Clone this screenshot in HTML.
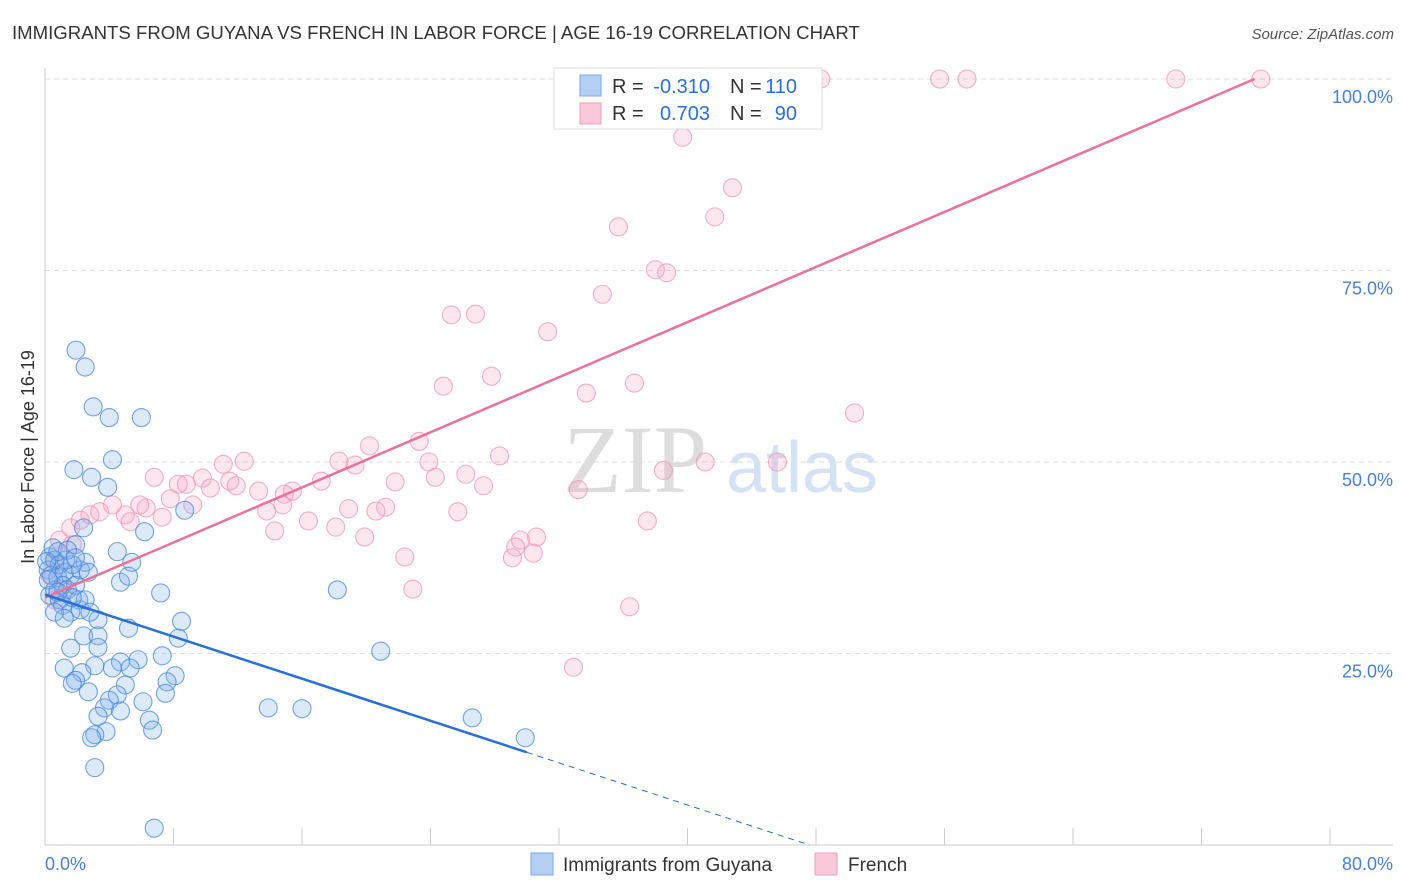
<!DOCTYPE html>
<html><head><meta charset="utf-8"><style>
body{margin:0;background:#fff;font-family:"Liberation Sans",sans-serif;}
#wrap{position:relative;width:1406px;height:892px;overflow:hidden;}
</style></head><body>
<div id="wrap">
<svg id="svg" width="1406" height="892" xmlns="http://www.w3.org/2000/svg">
<text x="12" y="39" font-size="18.6" fill="#333">IMMIGRANTS FROM GUYANA VS FRENCH IN LABOR FORCE | AGE 16-19 CORRELATION CHART</text>
<text x="1394" y="39" font-size="15" fill="#555" font-style="italic" text-anchor="end">Source: ZipAtlas.com</text>
<text x="635" y="492" font-size="96" fill="#ddd" font-family="Liberation Serif,serif" text-anchor="middle">ZIP</text>
<text x="802" y="492" font-size="72" fill="#d4e2f4" text-anchor="middle">atlas</text>
<g id="grid"></g>
<g id="pts"></g>
<g id="lines"></g>
<text transform="translate(34,457) rotate(-90)" font-size="18" fill="#333" text-anchor="middle">In Labor Force | Age 16-19</text>
<g>
<rect x="554" y="68" width="268" height="61" fill="#fff" stroke="#ddd"/>
<rect x="580" y="75" width="21" height="21" fill="#b4cff2" stroke="#7aa7e3"/>
<rect x="580" y="103" width="21" height="21" fill="#f9c9d8" stroke="#f0a0bb"/>
<text x="612" y="93" font-size="20" fill="#333">R =</text>
<text x="710" y="93" font-size="20" fill="#2a6fd6" text-anchor="end">-0.310</text>
<text x="730" y="93" font-size="20" fill="#333">N =</text>
<text x="797" y="93" font-size="20" fill="#2a6fd6" text-anchor="end">110</text>
<text x="612" y="120" font-size="20" fill="#333">R =</text>
<text x="710" y="120" font-size="20" fill="#2a6fd6" text-anchor="end">0.703</text>
<text x="730" y="120" font-size="20" fill="#333">N =</text>
<text x="797" y="120" font-size="20" fill="#2a6fd6" text-anchor="end">90</text>
</g>
<g>
<rect x="531" y="853" width="22" height="22" fill="#b4cff2" stroke="#7aa7e3"/>
<text x="563" y="871" font-size="19" fill="#333">Immigrants from Guyana</text>
<rect x="815" y="853" width="22" height="22" fill="#f9c9d8" stroke="#f0a0bb"/>
<text x="848" y="871" font-size="19" fill="#333">French</text>
</g>
</svg>
</div>
<script>
const yTicks=[25,50,75,100];
const yTickLabels=["25.0%","50.0%","75.0%","100.0%"];
const xTicks=[0,8,16,24,32,40,48,56,64,72,80];
const blueX=[1.93,2.5,3.0,4.0,6.0,4.2,1.8,2.9,3.9,8.7,6.2,2.4,1.9,4.5,5.4,2.5,4.7,5.2,7.2,18.2,8.5,8.3,5.2,3.3,2.4,3.3,3.3,1.6,20.9,7.3,5.8,4.7,4.2,5.3,3.1,1.2,2.3,1.9,1.7,8.1,7.6,5.0,2.7,4.5,7.5,4.0,6.1,3.7,4.7,13.9,16.0,3.3,6.5,26.6,3.8,3.1,6.7,29.9,2.9,3.1,6.8,0.3,0.6,0.9,0.2,0.4,0.8,1.2,1.6,1.1,0.6,0.3,0.9,1.4,1.9,2.2,1.7,1.3,2.7,2.1,1.1,0.6,1.6,2.2,1.2,0.2,0.5,0.8,1.4,1.9,2.5,2.8,1.7,0.8,0.1];
const blueY=[64.6,62.4,57.2,55.8,55.8,50.3,49.0,48.0,46.7,43.7,40.9,41.4,39.2,38.3,36.9,36.9,34.3,35.1,32.9,33.3,29.2,27.0,28.3,29.4,27.3,27.3,25.8,25.7,25.3,24.7,24.2,23.9,23.1,23.1,23.4,23.1,22.5,21.5,21.1,22.1,21.3,20.9,20.0,19.6,19.8,18.9,18.7,17.9,17.5,17.9,17.8,16.8,16.3,16.6,14.8,14.4,15.0,14.0,14.0,10.1,2.2,37.6,37.2,36.6,35.9,35.2,34.9,35.6,35.2,33.9,33.3,32.6,32.0,33.3,33.9,35.9,36.6,37.2,35.6,32.0,31.3,30.4,30.4,30.7,29.6,34.6,38.8,38.3,38.5,37.5,32.0,30.4,32.3,33.0,37.0];
const pinkX=[35.1,40.1,46.4,48.3,55.7,57.4,70.4,75.7,39.7,42.8,41.7,35.7,38.0,38.7,34.7,25.3,26.8,31.3,27.8,36.7,24.8,33.7,50.4,20.2,23.3,18.3,19.3,23.9,28.3,41.1,45.6,38.5,26.2,24.3,17.2,21.8,27.3,33.2,21.2,18.9,20.6,25.7,37.5,16.4,18.1,14.3,19.9,30.6,29.6,29.3,30.4,29.1,22.4,22.9,36.4,32.9,6.8,12.4,11.1,8.3,8.8,9.8,10.3,11.5,11.9,13.3,14.9,15.4,7.8,9.2,5.9,6.3,7.3,13.8,14.8,5.0,4.2,3.4,2.8,2.2,1.6,0.9,5.3,1.7,0.6,0.3,1.2,0.6];
const pinkY=[100,100,100,100,100,100,100,100,92.4,85.8,82.0,80.7,75.1,74.7,71.9,69.2,69.3,67.0,61.2,60.3,59.9,59.0,56.4,52.1,52.7,50.1,49.6,50.0,50.8,50.0,50.0,48.9,48.4,48.0,47.5,47.4,46.9,46.4,44.1,43.9,43.6,43.5,42.3,42.3,41.5,41.0,40.2,40.2,39.8,38.9,38.1,37.5,37.6,33.4,31.1,23.2,48.0,50.1,49.7,47.1,47.1,47.9,46.6,47.5,46.9,46.2,45.8,46.2,45.2,44.4,44.4,44.0,42.8,43.6,44.4,43.1,44.4,43.5,43.1,42.4,41.4,39.8,42.2,39.2,37.2,35.2,33.3,32.0];
const blueTrend=[[0,32.7],[30,12.1]];
const blueTrendDash=[[30,12.1],[47.6,0]];
const pinkTrend=[[0,32.3],[75.3,100]];
const NS="http://www.w3.org/2000/svg";
function sx(v){return 45+v*(1285/80);}
function sy(v){return 845-v*(766/100);}
function mk(tag,attrs,parent){const e=document.createElementNS(NS,tag);for(const k in attrs)e.setAttribute(k,attrs[k]);parent.appendChild(e);return e;}
const grid=document.getElementById('grid');
yTicks.forEach((t,i)=>{
 const l=mk('line',{x1:45,x2:1393,y1:sy(t),y2:sy(t),stroke:'#ddd','stroke-dasharray':'5,4'},grid);
 
 
 const tx=mk('text',{x:1393,y:sy(t)+24,'font-size':18,fill:'#4a80d0','text-anchor':'end'},grid);
 tx.textContent=yTickLabels[i];
 
 
});
const ax=mk('line',{x1:45,x2:45,y1:68,y2:845,stroke:'#ccc'},grid);


const bx=mk('line',{x1:45,x2:1393,y1:845,y2:845,stroke:'#ccc'},grid);


xTicks.forEach(t=>{
 const l=mk('line',{x1:sx(t),x2:sx(t),y1:828,y2:845,stroke:'#ccc'},grid);
 
 
});
const x0=mk('text',{x:45,y:870,'font-size':18,fill:'#4a80d0'},grid);x0.textContent='0.0%';


const x1=mk('text',{x:1393,y:870,'font-size':18,fill:'#4a80d0','text-anchor':'end'},grid);x1.textContent='80.0%';


const pts=document.getElementById('pts');
pinkX.forEach((v,i)=>{
 const c=mk('circle',{cx:sx(v),cy:sy(pinkY[i]),r:9,fill:'rgba(244,160,190,0.25)',stroke:'rgba(238,150,182,0.75)','stroke-width':1.1},pts);
 
 
});
blueX.forEach((v,i)=>{
 const c=mk('circle',{cx:sx(v),cy:sy(blueY[i]),r:9,fill:'rgba(130,175,235,0.28)',stroke:'rgba(70,135,215,0.75)','stroke-width':1.1},pts);
 
 
});
const lines=document.getElementById('lines');
const pl=mk('line',{x1:sx(pinkTrend[0][0]),y1:sy(pinkTrend[0][1]),x2:sx(pinkTrend[1][0]),y2:sy(pinkTrend[1][1]),stroke:'#e8729a','stroke-width':2.5},lines);


const bl=mk('line',{x1:sx(blueTrend[0][0]),y1:sy(blueTrend[0][1]),x2:sx(blueTrend[1][0]),y2:sy(blueTrend[1][1]),stroke:'#2a6fd6','stroke-width':2.5},lines);


const bd=mk('line',{x1:sx(blueTrendDash[0][0]),y1:sy(blueTrendDash[0][1]),x2:sx(blueTrendDash[1][0]),y2:sy(blueTrendDash[1][1]),stroke:'#2a6fd6','stroke-width':1,'stroke-dasharray':'6,5'},lines);


</script>
</body></html>
